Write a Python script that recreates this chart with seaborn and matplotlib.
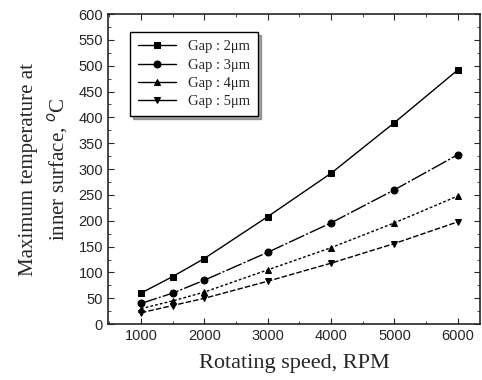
import numpy as np
import pandas as pd
import seaborn as sns
import matplotlib.pyplot as plt
from matplotlib.ticker import MultipleLocator

# values
rpm = [1000, 1500, 2000, 3000, 4000, 5000, 6000]
gap2 = [60, 92, 127, 208, 292, 390, 492]
gap3 = [40, 60, 85, 139, 196, 260, 328]
gap4 = [30, 45, 62, 105, 148, 196, 248]
gap5 = [22, 36, 50, 83, 118, 156, 198]
labels = ['Gap : 2\u03bcm', 'Gap : 3\u03bcm', 'Gap : 4\u03bcm', 'Gap : 5\u03bcm']

df = pd.DataFrame({'rpm': rpm * 4,
                   'temp': gap2 + gap3 + gap4 + gap5,
                   'gap': np.repeat(labels, len(rpm))})

sns.set_style('ticks')
plt.rcParams['font.family'] = ['Liberation Sans', 'DejaVu Sans']

fig = plt.figure(figsize=(4.82, 3.8), dpi=100)
ax = fig.add_axes([0.224, 0.147, 0.772, 0.816])

# solid, long dash-dot, dotted, dashed like the original
dashes = ['', (12, 1.5, 1.5, 1.5), (2, 1.5), (4, 1.5)]
sns.lineplot(data=df, x='rpm', y='temp', hue='gap', style='gap',
             palette=['black'] * 4, markers=['s', 'o', '^', 'v'],
             dashes=dashes, markersize=5, linewidth=1.0,
             markeredgecolor='black', ax=ax)

ax.set_xlim(480, 6350)
ax.set_ylim(0, 600)
ax.set_xticks([1000, 2000, 3000, 4000, 5000, 6000])
ax.xaxis.set_minor_locator(MultipleLocator(500))
ax.yaxis.set_major_locator(MultipleLocator(50))
ax.yaxis.set_minor_locator(MultipleLocator(25))
ax.tick_params(which='both', direction='in', top=True, right=True)
ax.tick_params(which='major', length=4, labelsize=10.5)
ax.tick_params(which='minor', length=2)
for s in ax.spines.values():
    s.set_linewidth(1.2)

serif = ['Liberation Serif', 'DejaVu Serif']
ax.set_xlabel('Rotating speed, RPM', family=serif, fontsize=16, labelpad=8)
ax.set_ylabel('Maximum temperature at\ninner surface, $^o$C', family=serif,
              fontsize=15, labelpad=6, linespacing=1.4)

handles, labs = ax.get_legend_handles_labels()
for h in handles:
    h.set_linestyle('-')
leg = ax.legend(handles, labs, loc='upper left', bbox_to_anchor=(0.04, 0.965),
                frameon=True, fancybox=False, shadow=True, edgecolor='black',
                prop={'family': serif, 'size': 10.5}, handlelength=2.6,
                borderpad=0.55, labelspacing=0.35)
leg.get_frame().set_linewidth(1.0)

fig.savefig('out.png', dpi=100)
